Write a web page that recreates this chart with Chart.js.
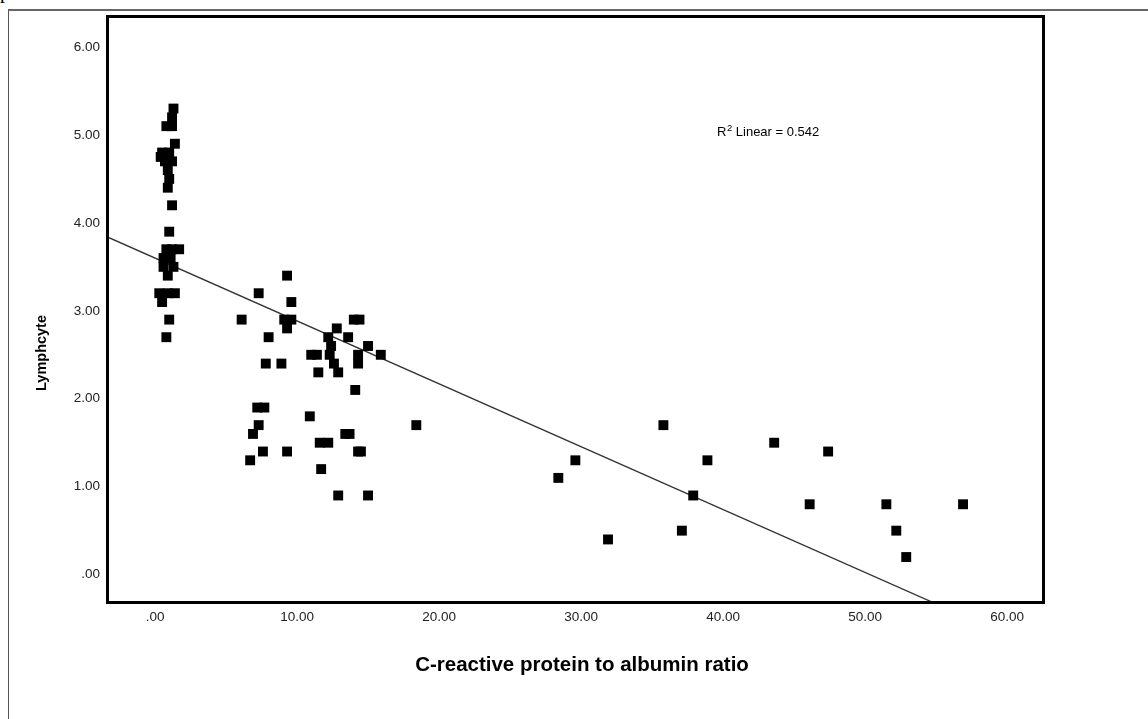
<!DOCTYPE html>
<html><head><meta charset="utf-8">
<script src="https://cdn.jsdelivr.net/npm/chart.js@4.4.0/dist/chart.umd.min.js"></script>
<style>
html,body{margin:0;padding:0;background:#fff;overflow:hidden;}
#wrap{position:relative;width:1148px;height:719px;overflow:hidden;}
#frame{position:absolute;left:8px;top:9px;width:1200px;height:800px;border-left:1px solid #555;border-top:2px solid #666;}
#cut{position:absolute;left:0px;top:-19px;font:20px "Liberation Serif",serif;color:#000;line-height:20px;}
canvas{position:absolute;left:0;top:0;}
</style></head><body>
<div id="wrap"><div id="cut">p</div><div id="frame"></div><canvas id="c" width="1148" height="719"></canvas></div>
<script>
// C-reactive protein to albumin ratio (x) and lymphocyte count (y)
const crpAlbuminRatio = [
  1.3,1.2,0.8,1.2,1.4,0.5,1.0,0.4,0.7,1.2,0.9,1.0,0.9,1.2,1.0,0.8,1.2,1.7,0.6,1.1,0.6,1.3,0.9,0.3,0.9,1.4,0.5,1.0,0.8,
  9.3,7.3,9.6,6.1,9.1,9.6,9.3,8.0,7.8,8.9,11.0,11.4,11.5,7.2,7.7,7.3,6.9,7.6,9.3,6.7,10.9,11.6,12.2,11.7,
  14.0,14.4,12.8,12.2,13.6,12.4,15.0,12.3,14.3,15.9,12.6,14.3,12.9,14.1,13.4,13.7,14.3,14.5,12.9,15.0,18.4,
  28.4,29.6,31.9,35.8,38.9,37.9,37.1,43.6,47.4,46.1,51.5,52.2,52.9,56.9
];
const lymphocyte = [
  5.3,5.2,5.1,5.1,4.9,4.8,4.8,4.75,4.7,4.7,4.6,4.5,4.4,4.2,3.9,3.7,3.7,3.7,3.6,3.6,3.5,3.5,3.4,3.2,3.2,3.2,3.1,2.9,2.7,
  3.4,3.2,3.1,2.9,2.9,2.9,2.8,2.7,2.4,2.4,2.5,2.5,2.3,1.9,1.9,1.7,1.6,1.4,1.4,1.3,1.8,1.5,1.5,1.2,
  2.9,2.9,2.8,2.7,2.7,2.6,2.6,2.5,2.5,2.5,2.4,2.4,2.3,2.1,1.6,1.6,1.4,1.4,0.9,0.9,1.7,
  1.1,1.3,0.4,1.7,1.3,0.9,0.5,1.5,1.4,0.8,0.8,0.5,0.2,0.8
];
const xTicks = [0,10,20,30,40,50,60];
const yTicks = [0,1,2,3,4,5,6];
const xRange = [-3.24, 62.46];
const yRange = [-0.30, 6.33];
const fitIntercept = 3.60;
const fitSlope = -0.0715;
const r2Parts = ['R', '2', ' Linear = 0.542'];
const xTitle = 'C-reactive protein to albumin ratio';
const yTitle = 'Lymphcyte';

const FONT = '"Liberation Sans", Arial, Helvetica, sans-serif';
Chart.defaults.font.family = FONT;

const points = crpAlbuminRatio.map((x, i) => ({x: x, y: lymphocyte[i]}));
const fitLine = xRange.map(x => ({x: x, y: fitIntercept + fitSlope * x}));
const fmt = v => (v === 0 ? '.00' : Number(v).toFixed(2));

const boxPlugin = {
  id: 'boxPlugin',
  afterDatasetsDraw(chart) {
    const {ctx, chartArea: a} = chart;
    ctx.save();
    ctx.strokeStyle = '#000';
    ctx.lineWidth = 3;
    ctx.strokeRect(a.left - 1.5, a.top - 1.5, a.right - a.left + 3, a.bottom - a.top + 3);
    ctx.fillStyle = '#000';
    ctx.textAlign = 'left';
    ctx.textBaseline = 'alphabetic';
    // R² annotation
    let tx = a.left + 608;
    const base = 136;
    ctx.font = '13px ' + FONT;
    ctx.fillText(r2Parts[0], tx, base);
    tx += ctx.measureText(r2Parts[0]).width + 0.5;
    ctx.font = '9.5px ' + FONT;
    ctx.fillText(r2Parts[1], tx, base - 5.5);
    tx += ctx.measureText(r2Parts[1]).width;
    ctx.font = '13px ' + FONT;
    ctx.fillText(r2Parts[2], tx, base);
    // axis titles
    ctx.textBaseline = 'middle';
    ctx.font = 'bold 20.5px ' + FONT;
    ctx.textAlign = 'center';
    ctx.fillText(xTitle, 582, 665);
    ctx.translate(42, 353);
    ctx.rotate(-Math.PI / 2);
    ctx.font = 'bold 14.5px ' + FONT;
    ctx.fillText(yTitle, 0, 0);
    ctx.restore();
  }
};

const tickFont = {size: 13.5, family: FONT};

new Chart(document.getElementById('c'), {
  data: {
    datasets: [
      {type: 'scatter', data: points, pointStyle: 'rect', pointRadius: 7, pointHoverRadius: 7,
       backgroundColor: '#000', borderColor: '#000', borderWidth: 0, order: 0},
      {type: 'line', data: fitLine, borderColor: '#333', borderWidth: 1.3, pointRadius: 0,
       fill: false, tension: 0, order: 1}
    ]
  },
  options: {
    responsive: false, animation: false, devicePixelRatio: 1,
    events: [],
    layout: {padding: {left: 0, top: 18, right: 106, bottom: 0}},
    plugins: {legend: {display: false}, tooltip: {enabled: false}},
    scales: {
      x: {
        type: 'linear', position: 'bottom', min: xRange[0], max: xRange[1],
        afterBuildTicks: s => { s.ticks = xTicks.map(v => ({value: v})); },
        afterFit: s => { s.height = 118; },
        grid: {display: false, drawTicks: false},
        border: {display: false},
        ticks: {callback: fmt, font: tickFont, color: '#222', padding: 8, maxRotation: 0, autoSkip: false},
        title: {display: false, text: xTitle}
      },
      y: {
        type: 'linear', position: 'left', min: yRange[0], max: yRange[1],
        afterBuildTicks: s => { s.ticks = yTicks.map(v => ({value: v})); },
        afterFit: s => { s.width = 109; },
        grid: {display: false, drawTicks: false},
        border: {display: false},
        ticks: {callback: fmt, font: tickFont, color: '#222', padding: 9, autoSkip: false},
        title: {display: false, text: yTitle}
      }
    }
  },
  plugins: [boxPlugin]
});
</script>
</body></html>
